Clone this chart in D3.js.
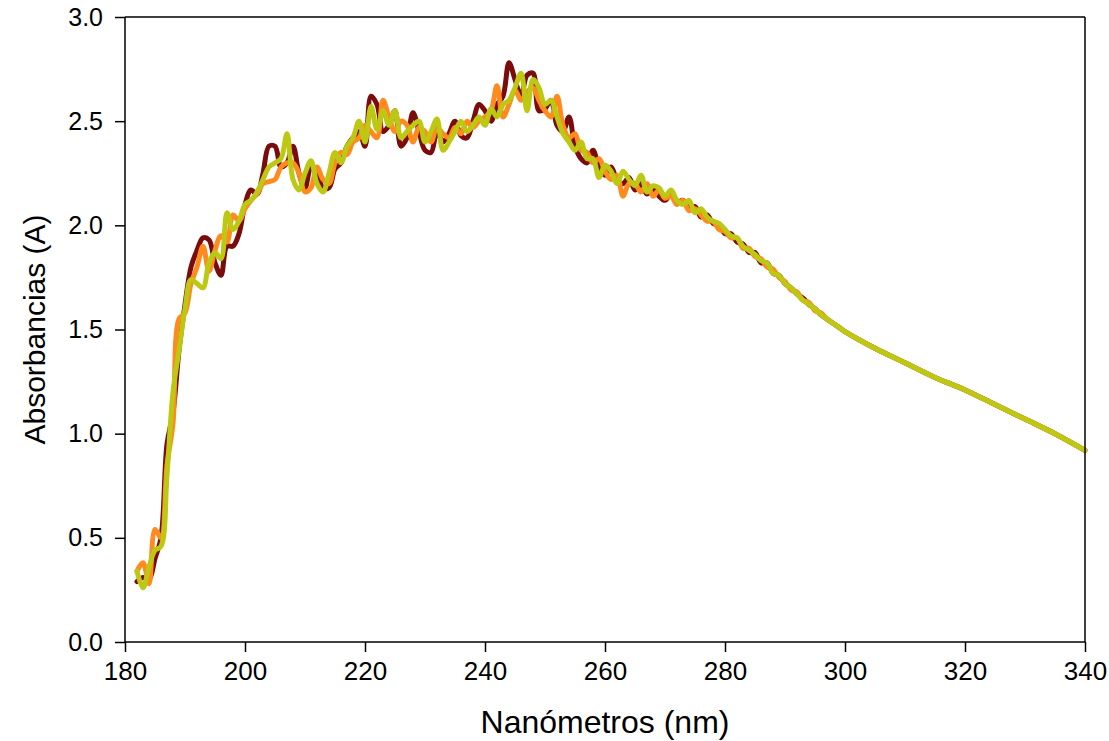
<!DOCTYPE html>
<meta charset="utf-8">
<style>
    body { margin: 0; background: #fff; }
    text { font-family: "Liberation Sans", Arial, sans-serif; fill: #000; }
    .axis path, .axis line { stroke: #000; stroke-width: 1.5px; }
    .trace { fill: none; stroke-width: 5px; stroke-linejoin: round; stroke-linecap: round; }
</style>
<svg width="1109" height="741"></svg>
<script src="https://cdn.jsdelivr.net/npm/d3@7"></script>
<script>

    // wavelength (nm): 1 nm steps to 300, then 5 nm steps
    var nm = [];
    for (var w = 182; w <= 300; w++) nm.push(w);
    nm = nm.concat([305, 310, 315, 320, 325, 330, 335, 340]);

    var tail = [1.41, 1.34, 1.27, 1.21, 1.14, 1.07, 1.00, 0.92];

    var serieMaroon = [
        0.29, 0.31, 0.30, 0.40, 0.50, 0.95, 1.10, 1.40, 1.62, 1.80,
        1.88, 1.94, 1.93, 1.82, 1.76, 1.90, 1.90, 1.96, 2.10, 2.17,
        2.15, 2.25, 2.38, 2.38, 2.28, 2.30, 2.38, 2.25, 2.18, 2.28,
        2.25, 2.18, 2.18, 2.27, 2.30, 2.38, 2.42, 2.45, 2.38, 2.62,
        2.58, 2.45, 2.48, 2.55, 2.38, 2.42, 2.54, 2.45, 2.36, 2.35,
        2.45, 2.40, 2.44, 2.50, 2.43, 2.42, 2.50, 2.58, 2.55, 2.50,
        2.58, 2.62, 2.78, 2.70, 2.62, 2.72, 2.73, 2.55, 2.56, 2.60,
        2.48, 2.45, 2.52, 2.38, 2.32, 2.30, 2.36, 2.28, 2.24, 2.28,
        2.22, 2.20, 2.23, 2.17, 2.20, 2.15, 2.18, 2.14, 2.12, 2.15,
        2.11, 2.12, 2.08, 2.09, 2.04, 2.05, 2.01, 2.00, 1.96, 1.96,
        1.92, 1.91, 1.87, 1.87, 1.82, 1.82, 1.77, 1.76, 1.72, 1.70,
        1.67, 1.65, 1.62, 1.60, 1.57, 1.55, 1.53, 1.51, 1.49
    ].concat(tail);

    var serieOrange = [
        0.34, 0.38, 0.28, 0.54, 0.50, 0.85, 1.05, 1.55, 1.58, 1.72,
        1.80, 1.90, 1.78, 1.88, 1.95, 1.92, 2.05, 2.02, 2.08, 2.12,
        2.15, 2.20, 2.21, 2.22, 2.28, 2.30, 2.30, 2.25, 2.16, 2.18,
        2.28, 2.22, 2.20, 2.30, 2.35, 2.34, 2.40, 2.42, 2.48, 2.45,
        2.42, 2.60, 2.52, 2.45, 2.50, 2.48, 2.40, 2.47, 2.45, 2.40,
        2.47, 2.44, 2.42, 2.47, 2.44, 2.50, 2.47, 2.50, 2.52, 2.55,
        2.67, 2.52, 2.58, 2.65, 2.60, 2.64, 2.66, 2.60, 2.55, 2.52,
        2.62, 2.48, 2.42, 2.44, 2.36, 2.35, 2.30, 2.32, 2.26, 2.22,
        2.24, 2.14, 2.20, 2.20, 2.16, 2.20, 2.14, 2.17, 2.13, 2.14,
        2.10, 2.12, 2.07, 2.08, 2.05, 2.02, 2.02, 1.98, 1.97, 1.94,
        1.94, 1.89, 1.89, 1.85, 1.84, 1.80, 1.79, 1.75, 1.73, 1.69,
        1.68, 1.64, 1.63, 1.59, 1.58, 1.55, 1.53, 1.51, 1.49
    ].concat(tail);

    var serieYellow = [
        0.34, 0.26, 0.36, 0.44, 0.46, 0.80, 1.20, 1.40, 1.60, 1.74,
        1.72, 1.70, 1.82, 1.87, 1.84, 2.06, 1.98, 2.02, 2.10, 2.12,
        2.16, 2.22, 2.28, 2.30, 2.32, 2.44, 2.22, 2.17, 2.25, 2.31,
        2.20, 2.16, 2.25, 2.35, 2.30, 2.38, 2.42, 2.50, 2.40, 2.57,
        2.46, 2.55, 2.48, 2.55, 2.42, 2.45, 2.48, 2.50, 2.40, 2.45,
        2.51, 2.36, 2.40, 2.45, 2.50, 2.45, 2.48, 2.52, 2.48, 2.56,
        2.52, 2.58, 2.60, 2.66, 2.73, 2.55, 2.70, 2.66, 2.58, 2.60,
        2.52, 2.44, 2.40, 2.36, 2.40, 2.32, 2.32, 2.23, 2.29, 2.26,
        2.20, 2.26, 2.22, 2.19, 2.24, 2.16, 2.19, 2.18, 2.14, 2.17,
        2.12, 2.10, 2.12, 2.06, 2.08, 2.04, 2.02, 2.01, 1.98, 1.95,
        1.94, 1.90, 1.88, 1.86, 1.83, 1.82, 1.77, 1.76, 1.72, 1.70,
        1.67, 1.64, 1.62, 1.60, 1.57, 1.55, 1.53, 1.51, 1.49
    ].concat(tail);

    var xTicks = [180, 200, 220, 240, 260, 280, 300, 320, 340];
    var yTicks = [0.0, 0.5, 1.0, 1.5, 2.0, 2.5, 3.0];

    var series = [
        { name: "maroon", color: "#7a0c0c", values: serieMaroon },
        { name: "orange", color: "#ff8a1e", values: serieOrange },
        { name: "yellow", color: "#bcc812", values: serieYellow }
    ];

    var svg = d3.select("svg"),
        margin = { top: 17, right: 24, bottom: 99, left: 125 },
        width = +svg.attr("width") - margin.left - margin.right,
        height = +svg.attr("height") - margin.top - margin.bottom;

    var g = svg.append("g")
        .attr("transform", "translate(" + margin.left + "," + margin.top + ")");

    var x = d3.scaleLinear().domain([180, 340]).range([0, width]);
    var y = d3.scaleLinear().domain([0, 3]).range([height, 0]);

    var line = d3.line()
        .x(function (d) { return x(d[0]); })
        .y(function (d) { return y(d[1]); })
        .curve(d3.curveCatmullRom.alpha(0.5));

    series.forEach(function (s) {
        var pts = nm.map(function (w, i) { return [w, s.values[i]]; });
        g.append("path")
            .datum(pts)
            .attr("class", "trace")
            .attr("stroke", s.color)
            .attr("d", line);
    });

    // frame (top + right)
    g.append("line").attr("x1", 0).attr("x2", width).attr("y1", 0).attr("y2", 0)
        .attr("stroke", "#000").attr("stroke-width", 1.5);
    g.append("line").attr("x1", width).attr("x2", width).attr("y1", 0).attr("y2", height)
        .attr("stroke", "#000").attr("stroke-width", 1.5);

    var xAxis = g.append("g")
        .attr("class", "axis")
        .attr("transform", "translate(0," + height + ")")
        .call(d3.axisBottom(x).tickValues(xTicks).tickSize(10).tickPadding(10).tickSizeOuter(0));
    xAxis.select(".domain").attr("d", "M0,0H" + width);
    xAxis.selectAll("text").style("font-size", "26px").style("font-family", "Liberation Sans, Arial, sans-serif");

    var yAxis = g.append("g")
        .attr("class", "axis")
        .call(d3.axisLeft(y).tickValues(yTicks).tickFormat(d3.format(".1f")).tickSize(10).tickPadding(12).tickSizeOuter(0));
    yAxis.select(".domain").attr("d", "M0," + height + "V0");
    yAxis.selectAll("text").style("font-size", "25px").style("font-family", "Liberation Sans, Arial, sans-serif");

    svg.append("text")
        .attr("text-anchor", "middle")
        .style("font-size", "32px")
        .attr("x", margin.left + width / 2)
        .attr("y", 733)
        .text("Nanómetros (nm)");

    svg.append("text")
        .attr("text-anchor", "middle")
        .style("font-size", "30px")
        .attr("transform", "translate(45," + (margin.top + height / 2) + ") rotate(-90)")
        .text("Absorbancias (A)");

</script>
